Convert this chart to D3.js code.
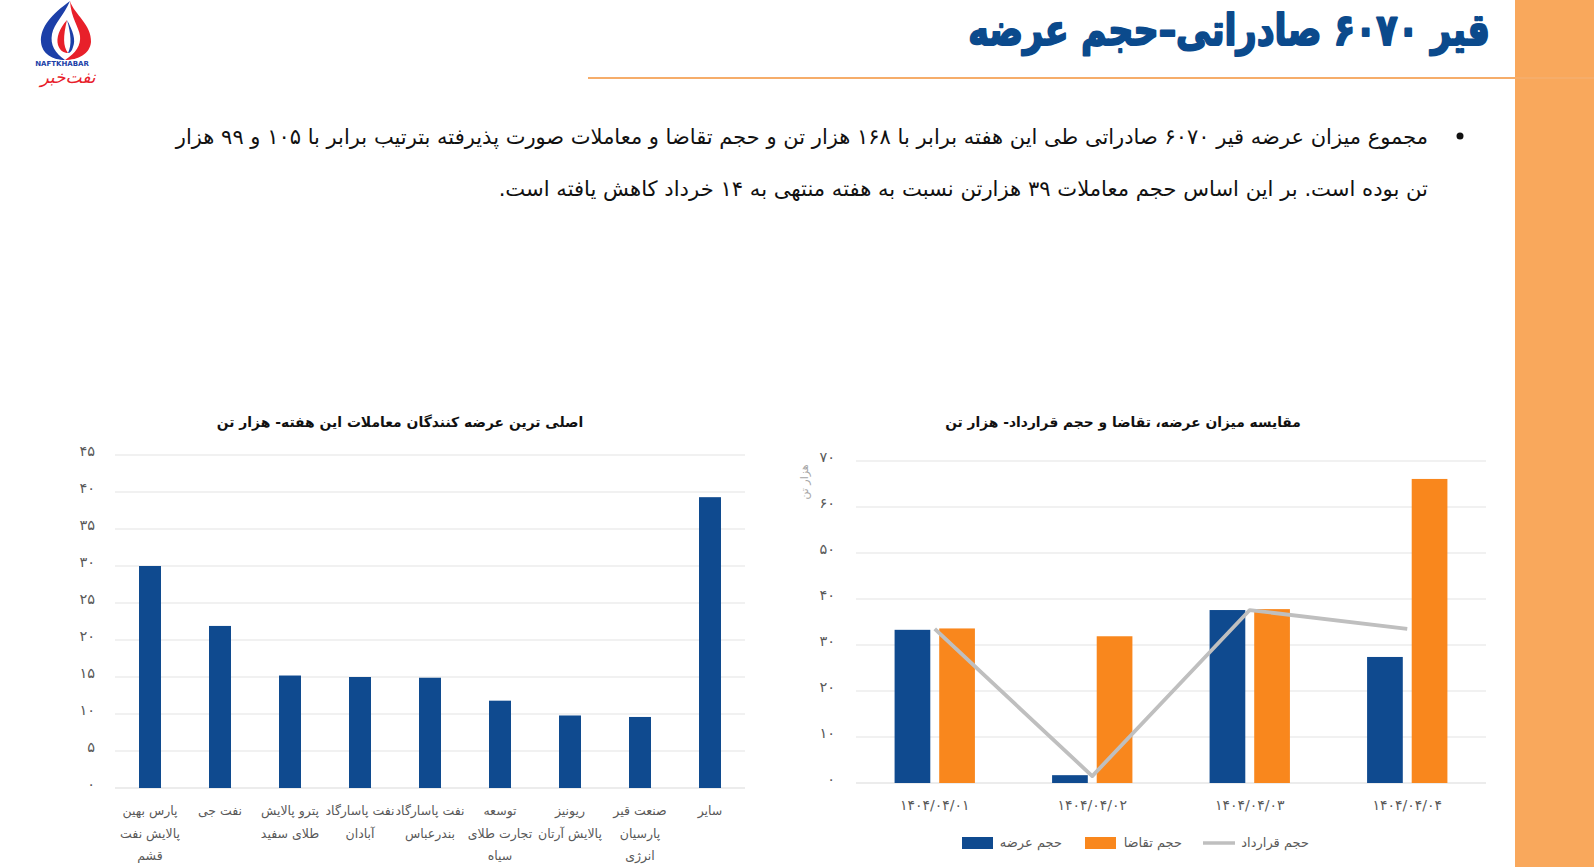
<!DOCTYPE html>
<meta charset="utf-8">
<script src="https://d3js.org/d3.v7.min.js"></script>
<style>
  body { margin: 0; background: #fff; }
  svg { display: block; }
  text { font-family: "DejaVu Sans", "Noto Sans", sans-serif; }
</style>
<div id="page"></div>

<script>
    // --- data ---
    const suppliers = [
        ["پارس بهین", "پالایش نفت", "قشم"],
        ["نفت جی"],
        ["پترو پالایش", "طلای سفید"],
        ["نفت پاسارگاد", "آبادان"],
        ["نفت پاسارگاد", "بندرعباس"],
        ["توسعه", "تجارت طلای", "سیاه"],
        ["ریونیز", "پالایش آرتان"],
        ["صنعت قیر", "پارسیان", "انرژی"],
        ["سایر"]
    ];
    const supplierValues = [30, 21.9, 15.2, 15.0, 14.9, 11.8, 9.8, 9.6, 39.3];
    const leftTicks = [0, 5, 10, 15, 20, 25, 30, 35, 40, 45];

    const days = ["۱۴۰۴/۰۴/۰۱", "۱۴۰۴/۰۴/۰۲", "۱۴۰۴/۰۴/۰۳", "۱۴۰۴/۰۴/۰۴"];
    const supply = [33.3, 1.7, 37.6, 27.4];
    const demand = [33.6, 31.9, 37.8, 66.1];
    const contract = [33.5, 1.5, 37.6, 33.5];
    const rightTicks = [0, 10, 20, 30, 40, 50, 60, 70];
    const seriesNames = ["حجم عرضه", "حجم تقاضا", "حجم قرارداد"];

    const titleText = "قیر ۶۰۷۰ صادراتی–حجم عرضه";
    const bodyLines = [
        "مجموع میزان عرضه قیر ۶۰۷۰ صادراتی طی این هفته برابر با ۱۶۸ هزار تن و حجم تقاضا و معاملات صورت پذیرفته بترتیب برابر با  ۱۰۵ و ۹۹ هزار",
        "تن بوده است. بر این اساس حجم معاملات ۳۹ هزارتن نسبت به هفته منتهی به ۱۴ خرداد کاهش یافته است."
    ];
    const leftTitle = "اصلی ترین عرضه کنندگان معاملات این هفته- هزار تن";
    const rightTitle = "مقایسه میزان عرضه، تقاضا و حجم قرارداد-  هزار تن";

    const blue = "#0f4a8f", orange = "#f9871d", gray = "#bfbfbf";
    const toFa = n => String(n).replace(/\d/g, c => "۰۱۲۳۴۵۶۷۸۹"[c]);

    const W = 1594, H = 867;
    const svg = d3.select("#page").append("svg")
        .attr("width", W).attr("height", H);

    // shrink / grow a text so it covers a given width
    function fit(sel, w) {
        const len = sel.node().getComputedTextLength();
        sel.attr("font-size", parseFloat(sel.attr("font-size")) * w / len);
        return sel;
    }
    function rtl(g, x, y, txt, size) {
        return g.append("text")
            .attr("x", x).attr("y", y)
            .attr("font-size", size)
            .style("direction", "rtl")
            .attr("text-anchor", "start")
            .text(txt);
    }

    // --- page frame ---
    svg.append("rect").attr("x", 1515).attr("y", 0).attr("width", 79).attr("height", H)
        .attr("fill", "#f9a85c");
    svg.append("line").attr("x1", 588).attr("x2", 1594).attr("y1", 78).attr("y2", 78)
        .attr("stroke", "#f6ad6a").attr("stroke-width", 2);

    // heavy title: a bit taller and thicker than plain bold
    fit(rtl(svg, 1490, 45, titleText, 44)
        .attr("font-weight", "bold").attr("fill", "#0b4a8c")
        .attr("stroke", "#0b4a8c").attr("stroke-width", 1.6).attr("stroke-linejoin", "round")
        .attr("transform", "translate(0,45) scale(1,1.25) translate(0,-45)"), 522);

    // logo
    const logo = svg.append("g");
    logo.append("path").attr("fill", "#1c3fa8")
        .attr("d", "M70,1 C52,14 40,27 41,42 C42,54 53,60 65,60 C55,53 50,45 52,34 C54,24 64,15 70,1 Z");
    logo.append("path").attr("fill", "#e8202a")
        .attr("d", "M70,1 C74,14 92,25 91,42 C90,54 78,60 65,60 C76,53 81,45 80,36 C79,27 71,18 70,1 Z");
    logo.append("path").attr("fill", "#e8202a")
        .attr("d", "M67,20 C59,29 56,38 58,45 C60,51 64,53 68,53 C63,46 63,37 67,20 Z");
    logo.append("path").attr("fill", "#1c3fa8")
        .attr("d", "M67,20 C73,31 76,40 73,47 C72,51 70,53 68,53 C72,45 71,34 67,20 Z");
    logo.append("text").attr("x", 62).attr("y", 66).attr("text-anchor", "middle")
        .attr("font-size", 7).attr("font-weight", "bold").attr("fill", "#1c3fa8")
        .text("NAFTKHABAR");
    logo.append("text").attr("x", 68).attr("y", 83).attr("text-anchor", "middle")
        .attr("font-size", 17).attr("font-style", "italic").attr("fill", "#e8202a")
        .text("نفت‌خبر");

    // body text
    svg.append("circle").attr("cx", 1460).attr("cy", 136).attr("r", 3.5).attr("fill", "#111");
    fit(rtl(svg, 1428, 144, bodyLines[0], 19).attr("fill", "#111"), 1253);
    fit(rtl(svg, 1428, 196, bodyLines[1], 19).attr("fill", "#111"), 930);

    // --- left chart: main suppliers ---
    const L = svg.append("g");
    const x1 = d3.scaleBand().domain(d3.range(suppliers.length))
        .range([115, 745]).paddingInner(0.686).paddingOuter(0.343);
    const y1 = d3.scaleLinear().domain([0, 45]).range([788, 455]);

    L.append("g").selectAll("line").data(leftTicks).join("line")
        .attr("x1", 115).attr("x2", 745)
        .attr("y1", d => y1(d)).attr("y2", d => y1(d))
        .attr("stroke", d => d === 0 ? "#d9d9d9" : "#e4e4e4").attr("stroke-width", 1.2);
    L.append("g").selectAll("text").data(leftTicks).join("text")
        .attr("x", 95).attr("y", d => y1(d) + 1)
        .attr("text-anchor", "end").attr("font-size", 14.5).attr("fill", "#595959")
        .text(d => toFa(d));
    L.append("g").selectAll("rect").data(supplierValues).join("rect")
        .attr("x", (d, i) => x1(i)).attr("width", x1.bandwidth())
        .attr("y", d => y1(d)).attr("height", d => y1(0) - y1(d))
        .attr("fill", blue);
    L.append("g").selectAll("g").data(suppliers).join("g")
        .each(function (lines, i) {
            d3.select(this).selectAll("text").data(lines).join("text")
                .attr("x", x1(i) + x1.bandwidth() / 2)
                .attr("y", (d, j) => 815 + j * 22.5)
                .attr("text-anchor", "middle").attr("font-size", 12.5).attr("fill", "#595959")
                .text(d => d);
        });
    const lt = L.append("text").attr("x", 400).attr("y", 427).attr("text-anchor", "middle")
        .attr("font-size", 15).attr("font-weight", "bold").attr("fill", "#111").text(leftTitle);
    fit(lt, 367);

    // --- right chart: supply / demand / contract ---
    const R = svg.append("g");
    const x0 = d3.scaleBand().domain(days).range([856, 1486]).paddingInner(0.49).paddingOuter(0.245);
    const xs = d3.scaleBand().domain([0, 1]).range([0, x0.bandwidth()]).paddingInner(0.2);
    const y2 = d3.scaleLinear().domain([0, 70]).range([783, 461]);

    R.append("g").selectAll("line").data(rightTicks).join("line")
        .attr("x1", 856).attr("x2", 1486)
        .attr("y1", d => y2(d)).attr("y2", d => y2(d))
        .attr("stroke", d => d === 0 ? "#d9d9d9" : "#e4e4e4").attr("stroke-width", 1.2);
    R.append("g").selectAll("text").data(rightTicks).join("text")
        .attr("x", 835).attr("y", d => y2(d) + 1)
        .attr("text-anchor", "end").attr("font-size", 14.5).attr("fill", "#595959")
        .text(d => toFa(d));
    R.append("text").attr("transform", "translate(808,482) rotate(-90)")
        .attr("text-anchor", "middle").attr("font-size", 11).attr("fill", "#a6a6a6")
        .text("هزار تن");

    const groups = R.append("g").selectAll("g").data(days).join("g")
        .attr("transform", d => `translate(${x0(d)},0)`);
    groups.append("rect")
        .attr("x", xs(0)).attr("width", xs.bandwidth())
        .attr("y", (d, i) => y2(supply[i])).attr("height", (d, i) => y2(0) - y2(supply[i]))
        .attr("fill", blue);
    groups.append("rect")
        .attr("x", xs(1)).attr("width", xs.bandwidth())
        .attr("y", (d, i) => y2(demand[i])).attr("height", (d, i) => y2(0) - y2(demand[i]))
        .attr("fill", orange);

    const line = d3.line()
        .x((d, i) => x0(days[i]) + x0.bandwidth() / 2)
        .y(d => y2(d));
    R.append("path").datum(contract).attr("d", line)
        .attr("fill", "none").attr("stroke", gray).attr("stroke-width", 3.8)
        .attr("stroke-linejoin", "round");

    R.append("g").selectAll("text").data(days).join("text")
        .attr("x", d => x0(d) + x0.bandwidth() / 2).attr("y", 810)
        .attr("text-anchor", "middle").attr("font-size", 14).attr("fill", "#595959")
        .attr("letter-spacing", 1.5)
        .text(d => d);

    const rt = R.append("text").attr("x", 1123).attr("y", 427).attr("text-anchor", "middle")
        .attr("font-size", 15).attr("font-weight", "bold").attr("fill", "#111").text(rightTitle);
    fit(rt, 356);

    // legend
    const leg = R.append("g");
    leg.append("rect").attr("x", 962).attr("y", 837).attr("width", 31).attr("height", 12).attr("fill", blue);
    rtl(leg, 1062, 847, seriesNames[0], 13).attr("fill", "#595959");
    leg.append("rect").attr("x", 1085).attr("y", 837).attr("width", 31).attr("height", 12).attr("fill", orange);
    rtl(leg, 1182, 847, seriesNames[1], 13).attr("fill", "#595959");
    leg.append("line").attr("x1", 1203).attr("x2", 1235).attr("y1", 843).attr("y2", 843)
        .attr("stroke", gray).attr("stroke-width", 3.5);
    rtl(leg, 1309, 847, seriesNames[2], 13).attr("fill", "#595959");
</script>
</html>
